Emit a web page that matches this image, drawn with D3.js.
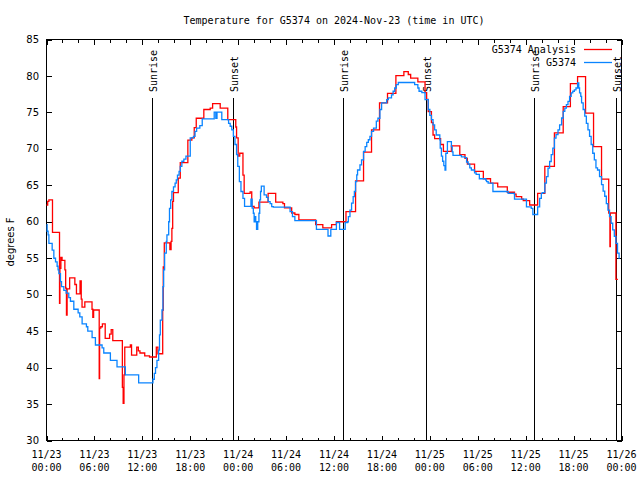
<!DOCTYPE html>
<html><head><meta charset="utf-8">
<script src="https://cdn.jsdelivr.net/npm/d3@7"></script>
<style>body{margin:0;background:#fff}svg{display:block}</style>
</head><body>
<svg id="c" width="640" height="480"></svg>
<script>
const chartTitle = "Temperature for G5374 on 2024-Nov-23 (time in UTC)";
const yLabel = "degrees F";
const yTicks = [30, 35, 40, 45, 50, 55, 60, 65, 70, 75, 80, 85];
const seriesNames = ["G5374 Analysis", "G5374"];
const seriesColors = ["#ff0000", "#0a84ff"];
const sunHours = [13.17, 23.4, 37.17, 47.46, 61.05, 71.3];
const sunLabels = ["Sunrise", "Sunset", "Sunrise", "Sunset", "Sunrise", "Sunset"];

// Analysis (red): hours since 11/23 00:00 UTC, temperature F
const analysisHours = [0,0.15,0.3,0.75,1.63,1.68,1.8,1.95,2.3,2.4,2.5,2.58,2.9,3.55,3.75,4.2,4.35,4.45,4.8,5.7,5.8,5.9,6.6,6.65,6.8,7.0,7.35,7.9,8.1,8.3,9.5,9.6,9.7,9.8,10.5,10.65,11.3,11.5,11.7,12.3,12.9,13.75,13.95,14.55,14.62,14.75,15.45,15.6,15.7,15.8,15.9,16.5,16.75,17.7,18.2,18.5,18.75,19.7,20.5,20.8,21.75,22.7,23.7,23.8,24.0,24.2,24.6,24.75,25.5,25.7,26.0,26.6,27.75,28.7,29.6,29.8,30.7,31.1,31.6,33.7,34.6,35.7,36.3,37.5,38.7,39.7,40.7,41.7,42.7,43.75,44.75,45.3,45.6,46.5,47.4,47.6,47.8,48.2,48.4,48.6,49.35,49.7,50.7,51.75,52.4,52.7,53.6,54.7,55.6,56.5,57.7,58.6,58.8,59.5,59.7,60.5,61.5,62.4,63.6,64.7,65.6,66.5,67.5,68.5,69.5,70.4,70.55,70.6,71.3,71.55];
const analysisTemps = [62.3,62.8,63.0,58.55,48.8,53.6,55.1,54.7,53.4,50.9,47.2,50.8,52.3,51.4,50.1,51.9,49.4,48.3,49.0,48.0,46.9,47.9,38.5,45.4,45.6,46.0,44.0,44.6,45.2,43.7,37.3,35.1,39.0,42.8,43.1,41.7,42.8,42.3,42.0,41.6,41.45,42.8,41.9,47.9,53.8,57.1,56.2,57.3,59.1,62.8,64.0,66.0,68.1,71.2,71.5,72.9,74.2,75.4,75.6,76.2,75.6,74.0,73.0,71.5,69.0,69.4,66.4,63.9,64.1,62.1,61.9,62.7,63.9,62.7,62.5,61.9,61.2,61.0,60.25,59.6,59.15,59.6,60.0,61.4,65.6,69.55,72.6,76.3,77.6,80.05,80.6,80.2,79.7,79.2,77.7,76.8,75.1,73.6,71.9,71.4,70.6,69.65,70.4,69.2,68.7,67.9,66.9,65.9,65.3,64.8,64.05,63.8,63.45,63.1,62.9,62.3,63.9,67.6,72.2,75.8,78.95,79.9,74.9,70.3,65.85,61.2,56.6,61.2,52.1,52.1];

// Observations (blue)
const obsHours = [0,0.08,0.2,0.3,0.71,0.92,1.13,1.33,1.45,1.55,1.75,1.88,2.17,2.46,2.79,3.0,3.42,3.96,4.17,4.46,5.0,5.17,5.71,6.125,6.96,7.17,8.0,8.83,9.875,11.54,13.33,13.5,13.65,13.83,14.04,14.15,14.25,14.46,14.58,14.67,14.79,15.0,15.08,15.3,15.4,15.55,15.7,15.9,16.1,16.25,16.4,16.6,16.75,16.95,17.2,17.46,18.0,18.4,18.6,18.8,19.2,19.5,21.0,21.2,21.35,21.95,22.8,23.0,23.2,23.4,23.6,23.8,23.95,24.15,24.35,24.6,24.8,25.6,25.75,25.9,26.0,26.1,26.2,26.3,26.45,26.6,26.7,26.8,26.9,27.25,27.55,27.75,28.0,28.2,28.4,30.5,30.8,31.1,33.8,35.25,35.6,36.3,36.7,37.4,37.7,37.8,38.0,38.2,38.4,38.55,38.7,38.85,38.95,39.25,39.45,39.7,39.9,40.1,40.3,40.5,40.7,40.95,41.3,41.5,41.75,41.96,42.6,42.8,43.2,43.4,43.6,43.8,44.05,46.1,46.5,46.65,47.0,47.4,47.8,48.0,48.2,48.4,48.6,48.8,49.25,49.3,49.45,49.6,49.75,49.9,50.0,50.2,50.7,50.8,50.9,51.95,52.4,52.6,52.8,53.0,53.2,53.6,53.8,54.2,55.0,55.1,55.3,55.9,57.8,58.6,60.1,60.7,60.9,61.5,61.75,61.96,62.1,62.4,62.6,62.8,63.0,63.2,63.4,63.6,63.8,64.05,64.25,64.5,64.7,64.9,65.1,65.3,65.5,65.7,65.9,66.1,66.3,66.5,66.65,66.75,66.9,67.0,67.2,67.4,67.6,67.8,68.0,68.2,68.4,68.6,68.8,69.0,69.25,69.5,69.7,69.9,70.1,70.3,70.5,70.7,70.9,71.1,71.3,71.5,71.7,71.75];
const obsTemps = [59.6,58.7,58.2,57.05,56.1,55.0,54.5,53.9,53.4,52.9,51.8,51.1,50.6,50.2,49.6,49.1,48.0,47.5,46.95,46.0,45.6,45.0,44.1,43.1,42.7,42.0,41.0,40.1,39.0,37.9,38.4,39.2,40.0,41.0,42.4,44.5,46.5,47.9,51.1,53.4,55.7,57.3,58.2,60.0,61.85,63.0,64.15,64.8,65.3,65.75,66.4,66.9,67.6,68.3,68.6,69.0,71.5,71.7,72.4,72.85,73.2,74.1,75.05,74.2,75.05,74.0,73.5,73.1,72.6,71.7,70.6,69.2,67.6,65.5,64.15,63.2,62.1,63.1,61.86,61.17,60.0,60.7,60.0,58.97,60.0,61.17,63.0,64.15,64.9,63.7,63.36,62.77,62.5,62.08,62.0,61.4,60.7,60.15,58.97,58.05,58.97,59.9,58.97,59.9,60.0,60.7,61.6,62.55,63.45,64.15,65.5,66.44,67.1,67.8,68.5,69.65,70.3,70.9,71.25,71.7,72.4,72.85,73.8,74.2,75.4,76.3,76.75,77.0,77.4,77.9,78.35,78.8,79.1,78.8,78.35,77.9,77.7,76.75,75.4,74.6,74.0,73.3,72.6,71.9,71.25,70.1,69.0,68.3,67.7,67.1,69.4,71.0,70.3,69.6,69.1,68.9,68.8,68.2,67.9,67.4,67.1,66.7,66.5,65.9,65.7,65.5,65.3,64.15,63.9,63.1,62.05,61.85,61.0,62.05,63.2,63.9,64.0,65.3,66.2,67.36,68.27,69.2,70.1,71.48,71.94,72.6,73.3,74.23,75.15,75.6,76.06,76.5,77.2,77.67,77.9,78.1,78.35,79.04,78.35,77.67,77.2,76.3,75.4,74.5,73.5,72.6,71.7,70.6,69.4,68.5,67.4,67.1,66.2,65.1,64.2,63.5,62.5,61.6,60.7,59.8,58.9,58.0,57.05,55.7,55.0,55.0];

const t0 = Date.UTC(2024, 10, 23);
const H = 3600e3;
const toDate = h => new Date(t0 + h * H);

const L = 46.5, R = 621.5, T = 39.5, B = 440.5;
const svg = d3.select("#c");
svg.append("rect").attr("width", 640).attr("height", 480).attr("fill", "#fff");

const x = d3.scaleUtc().domain([toDate(0), toDate(72)]).range([L, R]);
const y = d3.scaleLinear().domain([30, 85]).range([B, T]);

const mono = "'DejaVu Sans Mono', monospace";
const sans = "'DejaVu Sans', sans-serif";

// title
svg.append("text").attr("x", (L + R) / 2).attr("y", 24).attr("text-anchor", "middle")
  .attr("font-family", mono).attr("font-size", 10).text(chartTitle);

// y label
svg.append("text").attr("transform", "translate(13.5,242) rotate(-90)")
  .attr("text-anchor", "middle").attr("font-family", sans).attr("font-size", 10).text(yLabel);

const g = svg.append("g").attr("shape-rendering", "crispEdges");

// axes ticks
const majorX = d3.utcHour.every(6).range(toDate(0), toDate(72.01));
const minorX = d3.utcHour.every(2).range(toDate(0), toDate(72.01));
const axB = d3.axisBottom(x).tickValues(minorX).tickSize(-3).tickFormat("");
const axBM = d3.axisBottom(x).tickValues(majorX).tickSize(-5).tickFormat("");
const axT = d3.axisTop(x).tickValues(minorX).tickSize(-3).tickFormat("");
const axTM = d3.axisTop(x).tickValues(majorX).tickSize(-5).tickFormat("");
const axL = d3.axisLeft(y).tickValues(yTicks).tickSize(-5).tickFormat("");
const axR = d3.axisRight(y).tickValues(yTicks).tickSize(-5).tickFormat("");
[[axB, `translate(0,${B})`], [axBM, `translate(0,${B})`], [axT, `translate(0,${T})`], [axTM, `translate(0,${T})`],
 [axL, `translate(${L},0)`], [axR, `translate(${R},0)`]].forEach(([a, tr]) => {
  const ag = g.append("g").attr("transform", tr).call(a);
  ag.select(".domain").remove();
  ag.selectAll("line").attr("stroke", "#000");
});

// x labels
const fmtD = d3.utcFormat("%m/%d"), fmtT = d3.utcFormat("%H:%M");
const xl = svg.append("g").attr("font-family", mono).attr("font-size", 10).attr("text-anchor", "middle");
majorX.forEach(d => {
  xl.append("text").attr("x", x(d)).attr("y", 457.5).text(fmtD(d));
  xl.append("text").attr("x", x(d)).attr("y", 471).text(fmtT(d));
});
// y labels
const yl = svg.append("g").attr("font-family", sans).attr("font-size", 10).attr("text-anchor", "end");
yTicks.forEach(v => yl.append("text").attr("x", 39).attr("y", y(v)).attr("dy", "0.36em").text(v));

// sun lines
sunHours.forEach((h, i) => {
  const sx = Math.round(x(toDate(h))) + 0.5;
  g.append("line").attr("x1", sx).attr("x2", sx).attr("y1", 98).attr("y2", B).attr("stroke", "#000");
  svg.append("text").attr("transform", `translate(${sx},92) rotate(-90)`).attr("dy", "0.42em")
    .attr("font-family", mono).attr("font-size", 10).text(sunLabels[i]);
});

// series
const line = d3.line().x(d => x(toDate(d[0]))).y(d => y(d[1])).curve(d3.curveStepAfter);
const obs = obsHours.map((h, i) => [h, obsTemps[i]]);
const ana = analysisHours.map((h, i) => [h, analysisTemps[i]]);
svg.append("path").datum(ana).attr("d", line).attr("fill", "none").attr("stroke", seriesColors[0]).attr("stroke-width", 1.3);
svg.append("path").datum(obs).attr("d", line).attr("fill", "none").attr("stroke", seriesColors[1]).attr("stroke-width", 1.3);

// frame
g.append("rect").attr("x", L).attr("y", T).attr("width", R - L).attr("height", B - T)
  .attr("fill", "none").attr("stroke", "#000");

// legend
const lg = svg.append("g").attr("font-family", mono).attr("font-size", 10);
seriesNames.forEach((n, i) => {
  const ly = 49.5 + i * 13;
  lg.append("text").attr("x", 576).attr("y", ly).attr("dy", "0.35em").attr("text-anchor", "end").text(n);
  lg.append("line").attr("x1", 584).attr("x2", 612).attr("y1", ly).attr("y2", ly)
    .attr("stroke", seriesColors[i]).attr("stroke-width", 1.3);
});
</script>
</body></html>
